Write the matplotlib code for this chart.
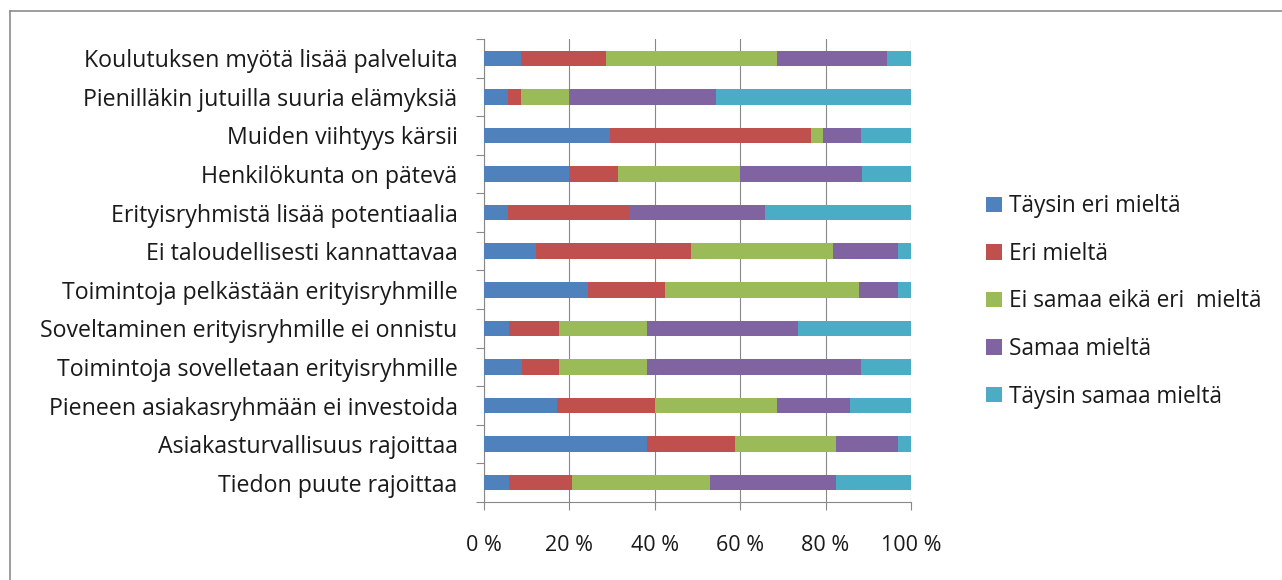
import matplotlib.pyplot as plt
from matplotlib.lines import Line2D
from matplotlib.patches import Patch
from matplotlib.ticker import FixedLocator, FuncFormatter

# väittämät ylhäältä alas
vaittamat = [
    'Koulutuksen myötä lisää palveluita',
    'Pienilläkin jutuilla suuria elämyksiä',
    'Muiden viihtyys kärsii',
    'Henkilökunta on pätevä',
    'Erityisryhmistä lisää potentiaalia',
    'Ei taloudellisesti kannattavaa',
    'Toimintoja pelkästään erityisryhmille',
    'Soveltaminen erityisryhmille ei onnistu',
    'Toimintoja sovelletaan erityisryhmille',
    'Pieneen asiakasryhmään ei investoida',
    'Asiakasturvallisuus rajoittaa',
    'Tiedon puute rajoittaa',
]

# vastaajien määrät vastausvaihtoehdoittain
taysin_eri = [3, 2, 10, 7, 2, 4, 8, 2, 3, 6, 13, 2]
eri = [7, 1, 16, 4, 10, 12, 6, 4, 3, 8, 7, 5]
ei_samaa_eika_eri = [14, 4, 1, 10, 0, 11, 15, 7, 7, 10, 8, 11]
samaa = [9, 12, 3, 10, 11, 5, 3, 12, 17, 6, 5, 10]
taysin_samaa = [2, 16, 4, 4, 12, 1, 1, 9, 4, 5, 1, 6]

sarjat = ['Täysin eri mieltä', 'Eri mieltä', 'Ei samaa eikä eri  mieltä',
          'Samaa mieltä', 'Täysin samaa mieltä']
varit = ['#4F81BD', '#C0504D', '#9BBB59', '#8064A2', '#4BACC6']

plt.rcParams['font.family'] = ['Open Sans', 'DejaVu Sans']
teksti = '#1a1a1a'
harmaa = '#888888'

fig = plt.figure(figsize=(12.82, 5.80), dpi=100)
ax = fig.add_axes([484 / 1282, 1 - 502 / 580, 427 / 1282, 463 / 580])

data = [taysin_eri, eri, ei_samaa_eika_eri, samaa, taysin_samaa]
yhteensa = [sum(r) for r in zip(*data)]
y = list(range(len(vaittamat)))

vasen = [0.0] * len(vaittamat)
for arvot, nimi, vari in zip(data, sarjat, varit):
    osuus = [100.0 * a / n for a, n in zip(arvot, yhteensa)]
    ax.barh(y, osuus, left=vasen, height=0.4, color=vari, label=nimi, zorder=3)
    vasen = [v + o for v, o in zip(vasen, osuus)]

ax.set_xlim(0, 100)
ax.set_ylim(len(vaittamat) - 0.5, -0.5)

# x-akseli
ax.set_xticks([0, 20, 40, 60, 80, 100])
ax.xaxis.set_major_formatter(FuncFormatter(lambda v, p: '%d %%' % v))
ax.tick_params(axis='x', length=6, width=0.8, color=harmaa, pad=18,
               labelsize=15.5, labelcolor=teksti)
ax.grid(axis='x', color=harmaa, linewidth=0.8, zorder=0)

# y-akseli: nimet keskellä, jakoviivat luokkien välissä
ax.set_yticks(y)
ax.set_yticklabels(vaittamat)
ax.yaxis.set_minor_locator(FixedLocator([i - 0.5 for i in range(len(vaittamat) + 1)]))
ax.tick_params(axis='y', which='major', length=0, pad=19, labelsize=16.7, labelcolor=teksti)
ax.tick_params(axis='y', which='minor', length=6, width=0.8, color=harmaa)

for s in ['top', 'right']:
    ax.spines[s].set_visible(False)
for s in ['left', 'bottom']:
    ax.spines[s].set_color(harmaa)
    ax.spines[s].set_linewidth(0.8)

kahvat = [Patch(facecolor=v, edgecolor='none') for v in varit]
fig.legend(kahvat, sarjat, loc='upper left', bbox_to_anchor=(966 / 1282, 1 - 174 / 580),
           frameon=False, fontsize=16.3, labelcolor=teksti, handlelength=0.68,
           handleheight=0.68, handletextpad=0.3, labelspacing=1.04)

# kaavion reunaviiva
fig.add_artist(Line2D([9.5 / 1282, 9.5 / 1282], [0, 1 - 11 / 580], transform=fig.transFigure,
                      color='#8c8c8c', linewidth=1.2))
fig.add_artist(Line2D([9.5 / 1282, 1], [1 - 11 / 580, 1 - 11 / 580], transform=fig.transFigure,
                      color='#8c8c8c', linewidth=1.2))

fig.savefig('out.png', dpi=100)
